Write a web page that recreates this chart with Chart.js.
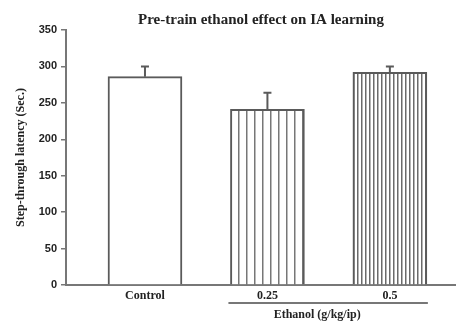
<!DOCTYPE html>
<html>
<head>
<meta charset="utf-8">
<script src="https://cdn.jsdelivr.net/npm/chart.js@4/dist/chart.umd.min.js"></script>
<style>
  body { margin: 0; background: #fff; }
  canvas { display: block; }
</style>
</head>
<body>
<canvas id="latencyChart" width="456" height="322"></canvas>
<script>
  // data
  const groups = ["Control", "0.25", "0.5"];
  const latency = [286, 241, 292];
  const sem = [14, 23, 8];
  const yTicks = [0, 50, 100, 150, 200, 250, 300, 350];

  const lineColor = "#5a5a5a";
  const textColor = "#222";

  // vertical stripe fills for the ethanol bars
  function stripes(step, lineW, color, offset) {
    const c = document.createElement("canvas");
    c.width = step;
    c.height = 4;
    const g = c.getContext("2d");
    g.fillStyle = "#fff";
    g.fillRect(0, 0, step, 4);
    g.fillStyle = color;
    g.fillRect(offset, 0, lineW, 4);
    return g.createPattern(c, "repeat");
  }

  const ctx = document.getElementById("latencyChart").getContext("2d");
  const fills = ["#fff", stripes(8, 1.5, "#777", 6), stripes(4, 1.5, "#6a6a6a", 1)];

  // error bars (upper only), title and the ethanol group label
  const extras = {
    id: "extras",
    afterDatasetsDraw(chart) {
      const c = chart.ctx;
      const x = chart.scales.x;
      const y = chart.scales.y;
      c.save();
      c.strokeStyle = lineColor;
      c.lineWidth = 2;
      latency.forEach((v, i) => {
        const px = x.getPixelForValue(i);
        const top = y.getPixelForValue(v + sem[i]);
        c.beginPath();
        c.moveTo(px, y.getPixelForValue(v));
        c.lineTo(px, top);
        c.moveTo(px - 4, top);
        c.lineTo(px + 4, top);
        c.stroke();
      });
      c.restore();
    },
    afterDraw(chart) {
      const c = chart.ctx;
      const x = chart.scales.x;
      const area = chart.chartArea;
      c.save();
      c.fillStyle = textColor;
      c.textAlign = "center";
      c.textBaseline = "middle";
      c.font = "bold 15px 'Liberation Serif'";
      c.fillText("Pre-train ethanol effect on IA learning", (area.left + area.right) / 2, 20);

      // line grouping the ethanol doses
      const x1 = x.getPixelForValue(1) - 39;
      const x2 = x.getPixelForValue(2) + 38;
      c.strokeStyle = "#777";
      c.lineWidth = 2;
      c.beginPath();
      c.moveTo(x1, 303);
      c.lineTo(x2, 303);
      c.stroke();
      c.font = "bold 12px 'Liberation Serif'";
      c.fillText("Ethanol (g/kg/ip)", (x1 + x2) / 2 - 11, 315);
      c.restore();
    }
  };

  new Chart(ctx, {
    type: "bar",
    data: {
      datasets: [
        {
          data: latency.map((v, i) => ({ x: i, y: v })),
          backgroundColor: fills,
          borderColor: lineColor,
          borderWidth: 2,
          barThickness: 74,
        },
      ],
    },
    options: {
      responsive: false,
      animation: false,
      layout: { padding: { top: 30, right: 0, bottom: 0, left: 0 } },
      plugins: {
        legend: { display: false },
        tooltip: { enabled: false },
      },
      scales: {
        x: {
          type: "linear",
          offset: false,
          min: -0.645,
          max: 2.54,
          afterBuildTicks: (scale) => {
            scale.ticks = groups.map((g, i) => ({ value: i }));
          },
          afterFit: (scale) => {
            scale.height = 37;
          },
          ticks: {
            autoSkip: false,
            maxRotation: 0,
            padding: 4,
            color: textColor,
            font: { family: "'Liberation Serif'", size: 12, weight: "bold" },
            callback: (v) => groups[v],
          },
          grid: { display: false, drawTicks: false },
          border: { color: "#777", width: 2 },
        },
        y: {
          min: 0,
          max: 350,
          afterBuildTicks: (scale) => {
            scale.ticks = yTicks.map((t) => ({ value: t }));
          },
          afterFit: (scale) => {
            scale.width = 66;
          },
          ticks: {
            padding: 4,
            color: textColor,
            font: { family: "'Liberation Sans'", size: 11, weight: "bold" },
          },
          grid: {
            drawOnChartArea: false,
            tickLength: 5,
            color: "#777",
            lineWidth: 1.5,
          },
          border: { color: "#777", width: 2 },
          title: {
            display: true,
            text: "Step-through latency (Sec.)",
            color: textColor,
            padding: { top: 14, bottom: 0 },
            font: { family: "'Liberation Serif'", size: 12, weight: "bold" },
          },
        },
      },
    },
    plugins: [extras],
  });
</script>
</body>
</html>
